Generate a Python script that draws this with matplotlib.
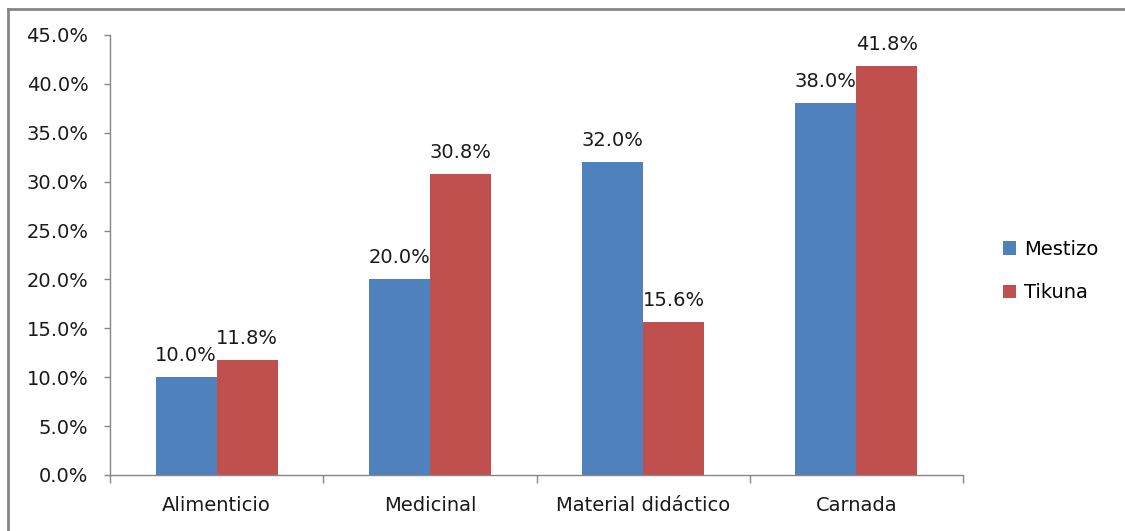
import numpy as np
import matplotlib.pyplot as plt
from matplotlib.lines import Line2D

categories = ["Alimenticio", "Medicinal", "Material didáctico", "Carnada"]
mestizo = [10.0, 20.0, 32.0, 38.0]
tikuna = [11.8, 30.8, 15.6, 41.8]
series_names = ["Mestizo", "Tikuna"]
yticks = np.arange(0, 46, 5)

BLUE = "#4F81BD"
RED = "#C0504D"
GRID = "#868686"

plt.rcParams["font.family"] = ["DejaVu Sans"]
plt.rcParams["font.size"] = 14

fig = plt.figure(figsize=(11.25, 5.31), dpi=100)
ax = fig.add_axes([110 / 1125, 56 / 531, 853 / 1125, 440 / 531])

x = np.arange(len(categories))
w = 0.286
bars_m = ax.bar(x - w / 2, mestizo, w, color=BLUE, label=series_names[0])
bars_t = ax.bar(x + w / 2, tikuna, w, color=RED, label=series_names[1])

for bars, vals in ((bars_m, mestizo), (bars_t, tikuna)):
    for b, v in zip(bars, vals):
        ax.annotate(f"{v:.1f}%", (b.get_x() + b.get_width() / 2, v),
                    xytext=(0, 11.5), textcoords="offset points",
                    ha="center", va="baseline", color="#1a1a1a")

ax.set_xlim(-0.5, len(categories) - 0.5)
ax.set_ylim(0, 45)
ax.set_yticks(yticks)
ax.set_yticklabels([f"{v:.1f}%" for v in yticks], color="#1a1a1a")
ax.set_xticks(x)
ax.set_xticklabels(categories, color="#1a1a1a")
ax.set_xticks(np.arange(-0.5, len(categories)), minor=True)

ax.tick_params(axis="y", length=4.5, width=1, color=GRID, pad=11)
ax.tick_params(axis="x", which="major", length=0, pad=15)
ax.tick_params(axis="x", which="minor", length=5.5, width=1, color=GRID)

for s in ("top", "right"):
    ax.spines[s].set_visible(False)
for s in ("left", "bottom"):
    ax.spines[s].set_color(GRID)
    ax.spines[s].set_linewidth(1)

ax.legend(loc="center left", bbox_to_anchor=(985 / 1125, 1 - 271 / 531),
          bbox_transform=fig.transFigure, frameon=False,
          handlelength=0.7, handleheight=0.7, handletextpad=0.4,
          labelspacing=1.25)

# outer chart border (only top and left visible in the crop)
fig.add_artist(Line2D([8 / 1125, 1.0], [1 - 9 / 531, 1 - 9 / 531],
                      transform=fig.transFigure, color=GRID, lw=2))
fig.add_artist(Line2D([8 / 1125, 8 / 1125], [0, 1 - 9 / 531],
                      transform=fig.transFigure, color=GRID, lw=2))

fig.savefig("out.png", dpi=100)
